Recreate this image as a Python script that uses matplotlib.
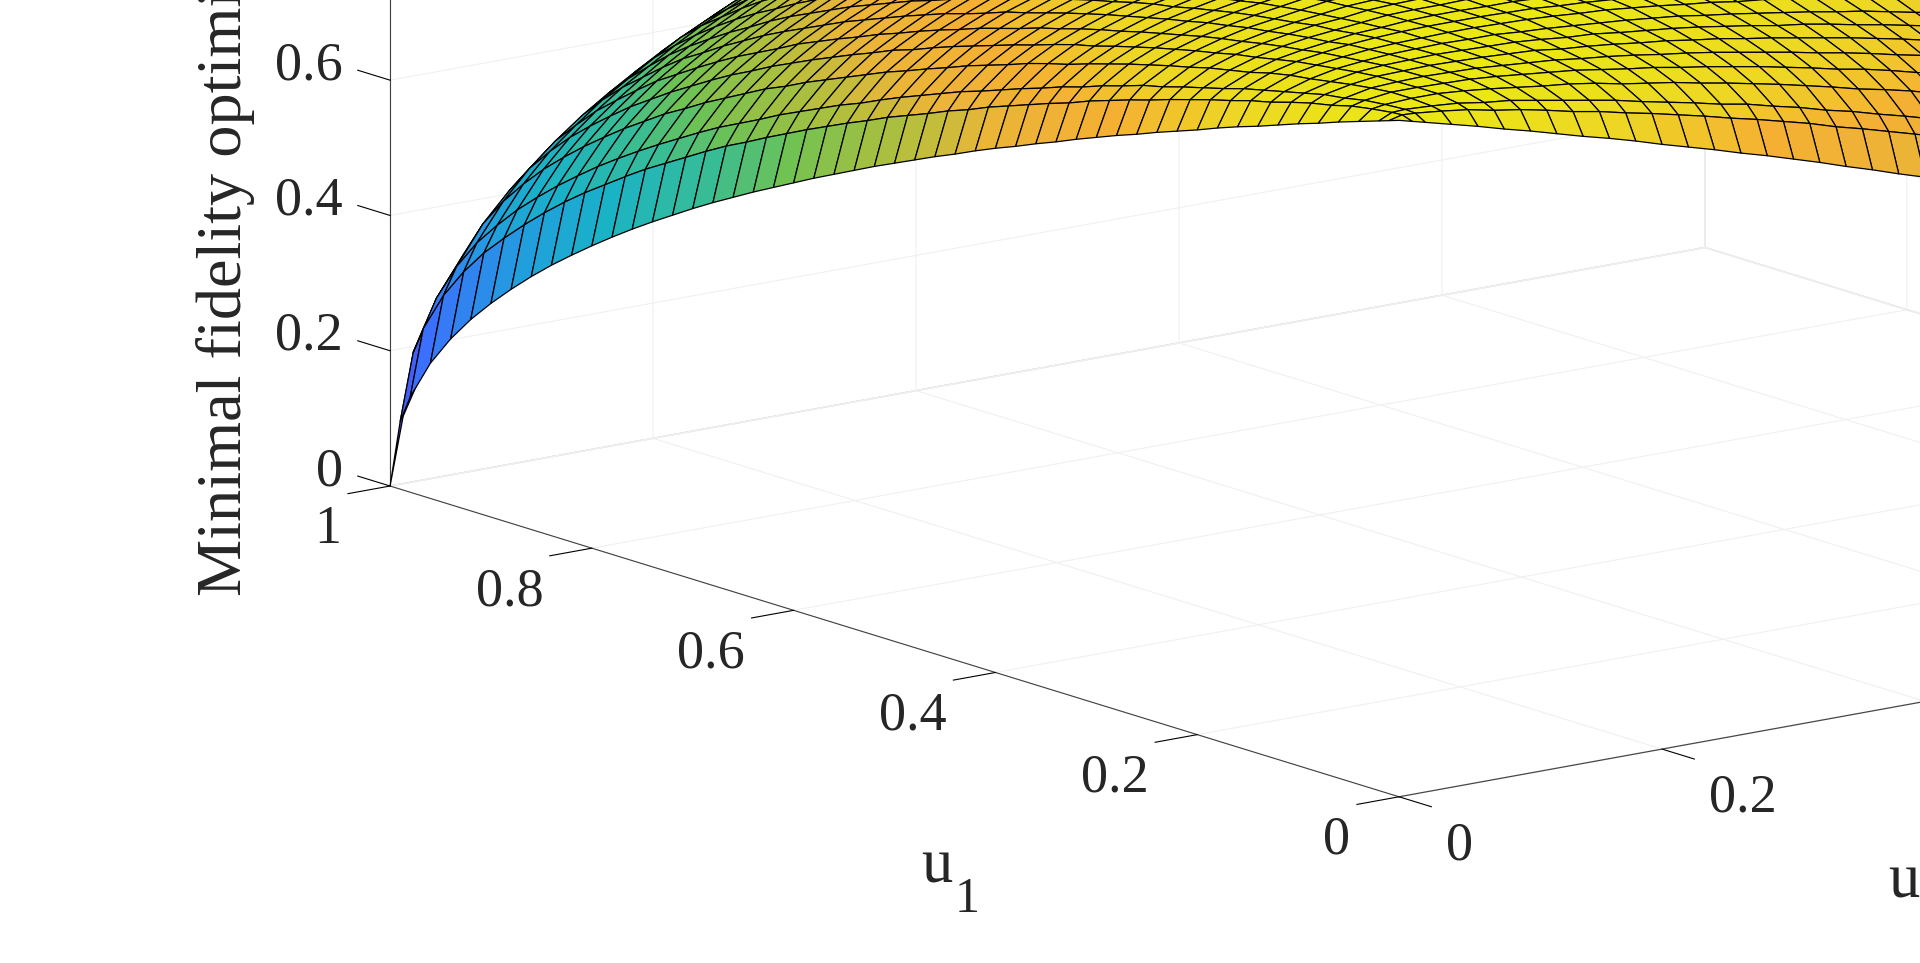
import numpy as np
import matplotlib
matplotlib.use('Agg')
import matplotlib.pyplot as plt
from matplotlib.colors import LinearSegmentedColormap
from matplotlib.text import Text
from matplotlib.transforms import offset_copy
from mpl_toolkits.mplot3d.art3d import Poly3DCollection

plt.rcParams['font.family'] = ['Liberation Serif', 'DejaVu Serif']

u1_vals = [0, .01, .02, .04, .06, .08, .10, .12, .14, .16, .18, .20, .22, .24, .26, .28, .30, .32, .34, .36,
           .38, .40, .42, .44, .46, .48, .50, .52, .54, .56, .58, .60, .62, .64, .66, .68, .70, .72, .74, .76,
           .78, .80, .82, .84, .86, .88, .90, .92, .94, .96, .98, .99, 1]
u2_vals = [0, .01, .02, .04, .06, .08, .10, .12, .14, .16, .18, .20, .22, .24, .26, .28, .30, .32, .34, .36,
           .38, .40, .42, .44, .46, .48, .50, .52, .54, .56]

# fidelity, one row per u1 value
fidelity = [
    [1.000, .995, .990, .980, .970, .959, .949, .938, .927, .917, .906, .894, .883, .872, .860, .849, .837, .825, .812, .800, .787, .775, .762, .748],
    [.995, 1.000, .999, .995, .990, .982, .976, .968, .959, .952, .943, .935, .926, .917, .907, .898, .888, .878, .866, .856, .845, .834, .823, .810],
    [.990, .999, 1.000, .998, .995, .989, .985, .978, .971, .964, .957, .948, .940, .932, .923, .916, .906, .897, .886, .877, .866, .856, .845, .834],
    [.980, .995, .998, 1.000, 1.000, .997, .993, .988, .983, .979, .973, .965, .959, .953, .945, .938, .930, .922, .913, .904, .894, .886, .877, .866],
    [.970, .990, .995, 1.000, 1.000, .999, .998, .995, .991, .987, .983, .977, .971, .966, .959, .953, .946, .939, .931, .923, .914, .907, .898, .888, .879, .869, .859],
    [.959, .982, .989, .997, .999, 1.000, .999, .998, .995, .992, .989, .984, .980, .975, .969, .964, .958, .951, .944, .937, .929, .922, .914, .905, .897, .887, .878],
    [.949, .976, .985, .993, .998, .999, 1.000, .999, .998, .996, .994, .989, .986, .982, .977, .973, .967, .962, .955, .949, .942, .935, .928, .920, .912, .903, .894],
    [.938, .968, .978, .988, .995, .998, .999, 1.000, .999, .998, .997, .994, .990, .988, .983, .979, .975, .970, .964, .958, .951, .946, .939, .931, .924, .916, .908, .899, .890, .881],
    [.927, .959, .971, .983, .991, .995, .998, .999, 1.000, .999, .999, .996, .994, .991, .988, .985, .981, .977, .971, .966, .960, .954, .948, .941, .935, .927, .919, .912, .904, .895],
    [.917, .952, .964, .979, .987, .992, .996, .998, .999, 1.000, 1.000, .999, .998, .996, .993, .991, .987, .983, .978, .974, .968, .964, .958, .951, .945, .938, .931, .923, .916, .907],
    [.906, .943, .957, .973, .983, .989, .994, .997, .999, 1.000, 1.000, 1.000, .999, .998, .995, .993, .990, .987, .983, .979, .974, .970, .965, .959, .953, .947, .941, .934, .926, .918],
    [.894, .935, .948, .965, .977, .984, .989, .994, .996, .999, 1.000, 1.000, .999, .999, .997, .995, .993, .991, .987, .983, .979, .976, .971, .965, .960, .955],
    [.883, .926, .940, .959, .971, .980, .986, .990, .994, .998, .999, .999, 1.000, 1.000, .998, .998, .996, .993, .990, .987, .984, .980],
    [.872, .917, .932, .953, .966, .975, .982, .988, .991, .996, .998, .999, 1.000, 1.000, 1.000, .999, .999, .996],
    [.860, .907, .923, .945, .959, .969, .977, .983, .988, .993, .995, .997, .998],
    [.849, .898, .916, .938, .953, .964, .973, .979, .985, .991, .993, .995, .998],
    [.837, .888, .906, .930, .946, .958, .967, .975, .981, .987, .990, .993, .996],
    [.825, .878, .897, .922, .939, .951, .962, .970, .977, .983, .987, .991, .993],
    [.812, .866, .886, .913, .931, .944, .955, .964, .971, .978, .983, .987, .990],
    [.800, .856, .877, .904, .923, .937, .949, .958, .966, .974, .979, .983, .987],
    [.787, .845, .866, .894, .914, .929, .942, .951, .960, .968, .974, .979, .984],
    [.775, .834, .856, .886, .907, .922, .935, .946, .954, .964, .970, .976, .980],
    [.762, .823, .845, .877, .898, .914, .928, .939, .948, .958, .965, .971, .977],
    [.748, .810, .834, .866, .888, .905, .920, .931, .941, .951, .959, .965, .971],
    [.735, .799, .824, .856, .879, .897, .912, .924, .935, .945, .953, .960, .967],
    [.721, .786, .812, .846, .869, .887, .903, .916, .927, .938, .947, .955, .962],
    [.707, .774, .800, .834, .859, .878, .894, .908, .919, .931],
    [.693, .762, .788, .823, .849, .869, .886, .899, .912, .923],
    [.678, .748, .775, .811, .838, .858, .875, .890, .903, .916],
    [.663, .735, .761, .800, .826, .848, .865, .881, .895, .907],
    [.648, .721, .749, .787, .816, .837, .856, .872, .886, .899],
    [.632, .707, .735, .774, .803, .825, .845, .861, .876, .890],
    [.616, .692, .721, .761, .791, .814, .834, .850, .865, .880],
    [.600, .677, .707, .748, .778, .801, .822, .840, .855, .870],
    [.583, .661, .691, .733, .765, .789, .810, .828, .844, .860],
    [.566, .646, .676, .720, .751, .776, .798, .816, .834, .849],
    [.548, .629, .661, .704, .737, .763, .784, .804, .821, .838],
    [.529, .611, .644, .688, .721, .747, .770, .790, .808, .825, .839, .853],
    [.510, .593, .626, .672, .706, .732, .756, .776, .795, .812, .827, .840],
    [.490, .575, .608, .654, .689, .717, .741, .762, .780, .798, .814, .828],
    [.469, .555, .589, .637, .671, .700, .724, .746, .765, .783, .799, .814],
    [.447, .534, .569, .617, .653, .682, .707, .728, .748, .768, .784, .800],
    [.424, .513, .548, .597, .633, .663, .688, .711, .732, .751, .768, .784],
    [.400, .490, .525, .575, .613, .644, .670, .692, .714, .734, .751, .768],
    [.374, .465, .501, .552, .590, .621, .648, .672, .694, .714, .732, .748],
    [.346, .438, .475, .527, .566, .597, .624, .650, .672, .692, .711, .728],
    [.316, .409, .447, .500, .540, .572, .600, .624, .648, .670, .688, .707, .724, .741, .756, .770],
    [.283, .378, .415, .469, .510, .542, .572, .597, .621, .644, .663, .682, .700, .717, .732, .747],
    [.245, .341, .380, .434, .476, .510, .540, .566, .590, .613, .633, .653, .671, .689, .706, .721],
    [.200, .297, .336, .392, .434, .469, .500, .527, .552, .575, .597, .617, .637, .654, .672, .688],
    [.141, .239, .280, .336, .380, .415, .447, .475, .501, .525, .548, .569, .589, .608, .626, .644],
    [.100, .199, .239, .297, .341, .378, .409, .438, .465, .490, .513, .534, .555, .575, .593, .611],
    [0, .100, .141, .200, .245, .283, .316, .346, .374, .400, .424, .447, .469, .490, .510, .529],
]

tick_vals = [0, .2, .4, .6, .8, 1]
tick_labels = ['0', '0.2', '0.4', '0.6', '0.8', '1']

parula = LinearSegmentedColormap.from_list('parula', [
    (0.00, (.24, .15, .66)), (0.10, (.28, .28, .92)), (0.20, (.24, .42, 1.0)), (0.30, (.20, .50, .95)),
    (0.40, (.13, .62, .87)), (0.50, (.10, .70, .78)), (0.60, (.22, .74, .58)), (0.66, (.43, .76, .33)),
    (0.74, (.69, .75, .24)), (0.80, (.92, .71, .22)), (0.87, (.96, .69, .20)), (0.93, (.93, .84, .14)),
    (1.00, (.92, .91, .08))])

fig = plt.figure(figsize=(19.2, 9.63), dpi=100)
side = 2373.7
ax = fig.add_axes([333.1 / 1920, -439.9 / 963, side / 1920, side / 963], projection='3d', proj_type='ortho')
ax.view_init(elev=13.67, azim=232.5)
ax.set_box_aspect((1, 1, .42))

# one quad per mesh cell
cells, cell_vals = [], []
for i in range(len(u1_vals) - 1):
    row, nxt = fidelity[i], fidelity[i + 1]
    for j in range(min(len(row), len(nxt)) - 1):
        cells.append([(u2_vals[j], u1_vals[i], row[j]), (u2_vals[j + 1], u1_vals[i], row[j + 1]),
                      (u2_vals[j + 1], u1_vals[i + 1], nxt[j + 1]), (u2_vals[j], u1_vals[i + 1], nxt[j])])
        cell_vals.append((row[j] + row[j + 1] + nxt[j] + nxt[j + 1]) / 4)
surf = Poly3DCollection(cells, facecolors=parula(cell_vals), edgecolors='k', linewidths=.9)
ax.add_collection3d(surf)

ax.set_xlim(0, 1, view_margin=0)
ax.set_ylim(0, 1, view_margin=0)
ax.set_zlim(0, 1, view_margin=0)
ax.set_xticks(tick_vals, tick_labels)
ax.set_yticks(tick_vals, tick_labels)
ax.set_zticks(tick_vals, tick_labels)

# z axis on the left corner, its ticks pointing along u1 like the reference
ax.zaxis.set_ticks_position('upper')
ax.zaxis._get_tickdir = lambda pos: 1

for axis in (ax.xaxis, ax.yaxis, ax.zaxis):
    axis.set_pane_color((1, 1, 1, 1))
    axis.pane.set_edgecolor('#d4d4d4')
    axis.line.set_color('#404040')
    axis.line.set_linewidth(.8)
    axis._axinfo['grid']['color'] = '#f0f0f0'
    axis._axinfo['grid']['linewidth'] = .8
    axis._axinfo['tick']['outward_factor'] = 0
    axis._axinfo['tick']['inward_factor'] = .4
    axis._axinfo['tick']['linewidth'] = {True: .8, False: .8}
    axis._axinfo['tick']['color'] = '#404040'
ax.zaxis._axinfo['tick']['outward_factor'] = .4
ax.zaxis._axinfo['tick']['inward_factor'] = 0
ax.tick_params(labelsize=39, labelcolor='#262626', pad=10)


def nudge(label, dx, dy):
    # mplot3d resets the label transform on every draw, so wrap the setter
    label.set_transform = lambda tr: Text.set_transform(label, offset_copy(tr, fig=fig, x=dx, y=dy, units='dots'))


for axis, ha, dx, dy in ((ax.xaxis, 'left', 27, -4), (ax.yaxis, 'right', -22, 0), (ax.zaxis, 'right', 0, 38)):
    for tick in axis.get_major_ticks():
        tick.label1.set_ha(ha)
        nudge(tick.label1, dx, dy)

fig.text(226 / 1920, 1 - 596 / 963, 'Minimal fidelity optimized', rotation=90, ha='center', va='bottom',
         fontsize=46.3, color='#262626')
fig.text(937 / 1920, 1 - 867 / 963, 'u', ha='center', va='center', fontsize=45, color='#262626')
fig.text(967 / 1920, 1 - 900 / 963, '1', ha='center', va='center', fontsize=36, color='#262626')
fig.text(1904 / 1920, 1 - 882 / 963, 'u', ha='center', va='center', fontsize=45, color='#262626')

fig.savefig('out.png', dpi=100)
